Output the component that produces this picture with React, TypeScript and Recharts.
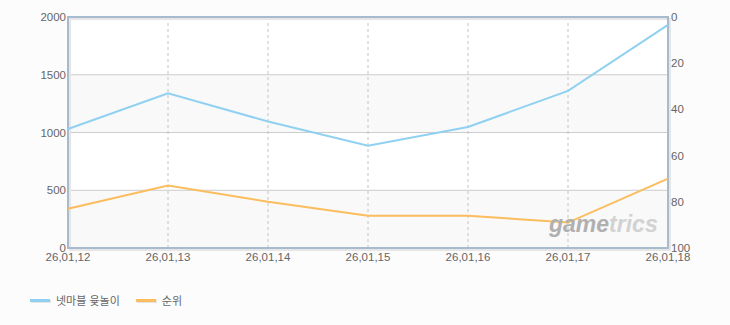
import React from 'react';
import { LineChart, Line, XAxis, YAxis, CartesianGrid, ReferenceArea } from 'recharts';

const dates = ['26,01,12', '26,01,13', '26,01,14', '26,01,15', '26,01,16', '26,01,17', '26,01,18'];
const usage = [1030, 1340, 1095, 885, 1048, 1360, 1932];
const rank = [83, 73, 80, 86, 86, 89, 70];
const leftTicks = [0, 500, 1000, 1500, 2000];
const rightTicks = [0, 20, 40, 60, 80, 100];

const series = [
  { key: 'usage', name: '넷마블 윷놀이', color: '#90d1f1', axis: 'left' },
  { key: 'rank', name: '순위', color: '#fbbd5d', axis: 'right' },
];

const data = dates.map((d, i) => ({ date: d, usage: usage[i], rank: rank[i] }));

const FONT = "'Liberation Sans', 'Noto Sans CJK KR', sans-serif";
const tickStyle = { fill: '#666', fontSize: 11.5, fontFamily: FONT };

// frame around the plot with a soft shadow on bottom/right
const Frame = (props: any) => {
  const { x, y, width, height } = props;
  return (
    <g>
      <rect x={x + 2} y={y + 2} width={width} height={height} fill="none" stroke="#e6e6e6" strokeWidth={2} />
      <rect x={x} y={y} width={width} height={height} fill="none" stroke="#a8bacd" strokeWidth={2} />
    </g>
  );
};

const App: React.FC = () => {
  return (
    <div style={{ position: 'absolute', left: 0, top: 0, width: 730, height: 325, background: '#fcfcfc' }}>
      <LineChart width={730} height={325} data={data} margin={{ top: 17, right: 12, left: 8, bottom: 57 }}>
        <CartesianGrid
          yAxisId="left"
          vertical={false}
          stroke="#cccccc"
          fill="#ffffff"
          horizontalFill={['#ffffff', '#f9f9f9']}
        />
        <CartesianGrid yAxisId="left" horizontal={false} stroke="#c4c4c4" strokeDasharray="3 3" />
        <XAxis
          dataKey="date"
          padding={{ left: 0, right: 0 }}
          axisLine={false}
          tickLine={false}
          tickSize={0}
          tickMargin={5}
          height={20}
          tick={tickStyle}
          interval={0}
        />
        <YAxis
          yAxisId="left"
          domain={[0, 2000]}
          ticks={leftTicks}
          width={60}
          axisLine={false}
          tickLine={false}
          tickSize={0}
          tickMargin={2}
          tick={tickStyle}
        />
        <YAxis
          yAxisId="right"
          orientation="right"
          reversed
          domain={[0, 100]}
          ticks={rightTicks}
          width={50}
          axisLine={false}
          tickLine={false}
          tickSize={0}
          tickMargin={3}
          tick={{ ...tickStyle, textAnchor: 'start' }}
        />
        {series.map((s) => (
          <Line
            key={s.key}
            yAxisId={s.axis}
            dataKey={s.key}
            name={s.name}
            stroke={s.color}
            strokeWidth={2}
            dot={false}
            activeDot={false}
            isAnimationActive={false}
          />
        ))}
        <ReferenceArea
          yAxisId="left"
          x1={dates[0]}
          x2={dates[dates.length - 1]}
          y1={0}
          y2={2000}
          shape={<Frame />}
        />
      </LineChart>

      {/* watermark */}
      <div
        style={{
          position: 'absolute',
          left: 549,
          top: 211,
          fontFamily: "'Liberation Sans', sans-serif",
          fontWeight: 'bold',
          fontStyle: 'italic',
          fontSize: 23,
          pointerEvents: 'none',
        }}
      >
        <span style={{ color: '#b0b0b0' }}>game</span>
        <span style={{ color: '#d2d2d2' }}>trics</span>
      </div>

      {/* legend */}
      <div
        style={{
          position: 'absolute',
          left: 30,
          top: 292,
          display: 'flex',
          alignItems: 'center',
          fontFamily: FONT,
          fontSize: 11,
          color: '#666',
        }}
      >
        {series.map((s) => (
          <div key={s.key} style={{ display: 'flex', alignItems: 'center', marginRight: 16 }}>
            <div style={{ width: 20, height: 3, background: s.color, boxShadow: '1px 1px 0 #e2e2e2', marginRight: 6 }} />
            <span>{s.name}</span>
          </div>
        ))}
      </div>
    </div>
  );
};

export default App;
